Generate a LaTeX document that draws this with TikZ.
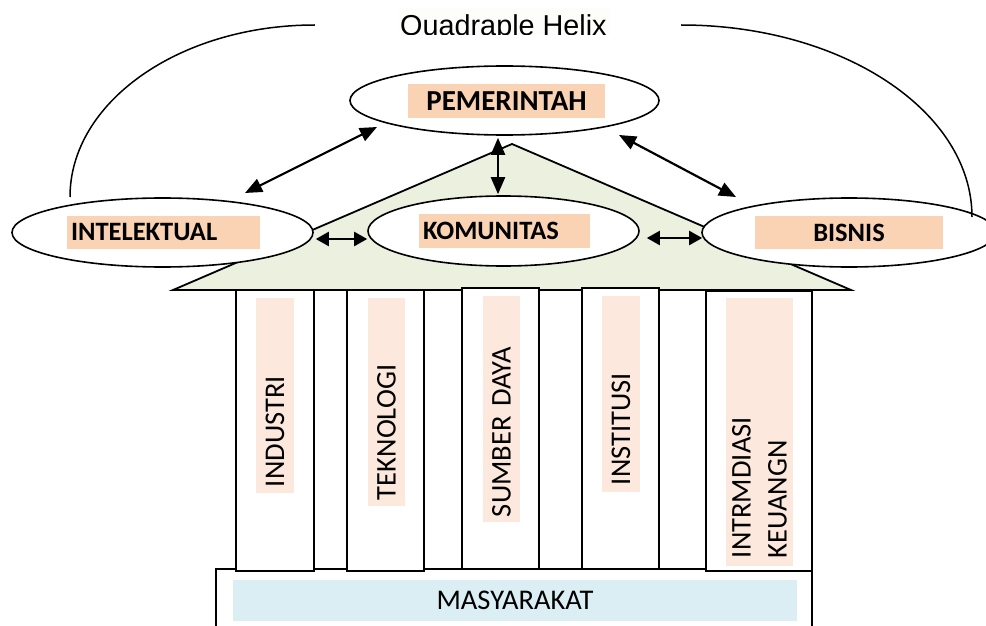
\documentclass[tikz,border=0pt]{standalone}
\usepackage{fontspec}
\setmainfont{Carlito}
\newfontfamily\arialf{Liberation Sans}
\usetikzlibrary{arrows.meta,shapes.geometric}
\definecolor{peachdark}{RGB}{250,211,180}
\definecolor{peachlight}{RGB}{252,232,220}
\definecolor{roofgreen}{RGB}{235,241,222}
\definecolor{aqua}{RGB}{218,238,243}
\definecolor{titlebg}{RGB}{253,253,250}
\begin{document}
\begin{tikzpicture}[x=1pt,y=-1pt,
  ell/.style={draw, ellipse, fill=white, line width=1.6pt, inner sep=0pt},
  lbl/.style={fill=peachdark, inner ysep=0pt, font=\fontsize{26.5}{30}\selectfont\bfseries},
  plbl/.style={fill=peachlight, rotate=90, align=left, inner ysep=0pt, font=\fontsize{28.5}{36}\selectfont},
  pillar/.style={draw, fill=white, line width=1.8pt, inner sep=0pt},
  arc/.style={line width=1.5pt},
  arr/.style={<->, >={Triangle[length=17pt,width=14pt]}, line width=2.2pt},
  harr/.style={<->, >={Triangle[length=13pt,width=14pt]}, line width=2.2pt}]
\useasboundingbox (0,0) rectangle (986,626);
\clip (0,0) rectangle (986,626);

% title
\node[fill=titlebg, inner sep=0pt, minimum width=211pt, minimum height=27pt] (titlebox) at (504.5,21.5) {};
\begin{scope}
  \clip (399,8) rectangle (611,34.7);
  \node[anchor=base west, inner sep=0pt, font=\arialf\fontsize{28.8}{32}\selectfont] (title) at (400,36) {Quadraple Helix};
\end{scope}

% roof
\filldraw[fill=roofgreen, draw=black, line width=1.8pt, line join=miter] (173,290) -- (512,144) -- (851,290) -- cycle;

% ellipses
\node[ell, minimum width=309pt, minimum height=69pt] (pem) at (504.5,100.5) {};
\node[ell, minimum width=301pt, minimum height=69pt] (int) at (162.5,232.5) {};
\node[ell, minimum width=271pt, minimum height=70pt] (kom) at (503.5,231) {};
\node[ell, minimum width=294pt, minimum height=69pt] (bis) at (849,232.5) {};

% labels
\node[lbl, font=\fontsize{29}{32}\selectfont\bfseries, minimum width=197pt, minimum height=34pt] (pemlbl) at (506.5,101) {PEMERINTAH};
\node[lbl, text width=185pt, inner xsep=4pt, align=left, minimum height=33pt] (intlbl) at (163.5,232.5) {INTELEKTUAL};
\node[lbl, text width=163pt, inner xsep=4pt, align=left, minimum height=34pt] (komlbl) at (504.5,231) {KOMUNITAS};
\node[lbl, minimum width=188pt, minimum height=33pt] (bislbl) at (849,232.5) {BISNIS};

% arcs
\draw[arc] ([shift={(-92.5,-35.5)}]int.center) .. controls +(0,-95) and +(-135.3,0) .. ([shift={(-84,3.5)}]titlebox.west);
\draw[arc] ([shift={(71,3.5)}]titlebox.east) .. controls +(160.7,0) and +(0,-106) .. ([shift={(123,-15.5)}]bis.center);

% arrows
\draw[arr] ([shift={(-127.5,26.5)}]pem.center) -- ([shift={(82.5,-39.5)}]int.center);
\draw[arr] ([shift={(-6.5,2)}]pem.south) -- ([shift={(-5.5,-1)}]kom.north);
\draw[arr] ([shift={(114.5,34.5)}]pem.center) -- ([shift={(-113,-35.5)}]bis.center);
\draw[harr] ([shift={(2,6.5)}]int.east) -- ([shift={(0,8)}]kom.west);
\draw[harr] ([shift={(7,7)}]kom.east) -- ([shift={(1,5.5)}]bis.west);

% base
\node[draw, fill=white, line width=1.5pt, inner sep=0pt, minimum width=596pt, minimum height=81pt] (base) at (514,609.5) {};
\node[fill=aqua, inner sep=0pt, minimum width=564pt, minimum height=41pt, font=\fontsize{28.5}{32}\selectfont] (mas) at (515,600.5) {MASYARAKAT};

% pillars
\node[pillar, minimum width=78pt, minimum height=281pt] (p1) at (275,430.5) {};
\node[pillar, minimum width=77pt, minimum height=281pt] (p2) at (385.5,430.5) {};
\node[pillar, minimum width=77pt, minimum height=281pt] (p3) at (500.5,428.5) {};
\node[pillar, minimum width=77pt, minimum height=281pt] (p4) at (620.5,428.5) {};
\node[pillar, minimum width=106pt, minimum height=280pt] (p5) at (759,431) {};

% pillar labels
\node[plbl, text width=183pt, inner xsep=6pt, minimum height=38pt] (l1) at (275,395.5) {INDUSTRI};
\node[plbl, text width=196pt, inner xsep=6pt, minimum height=37pt] (l2) at (386.5,402) {TEKNOLOGI};
\node[plbl, text width=216pt, inner xsep=5pt, minimum height=37pt] (l3) at (501.5,409) {SUMBER DAYA};
\node[plbl, text width=182pt, inner xsep=7pt, minimum height=38pt] (l4) at (621,394) {INSTITUSI};
\node[plbl, text width=252pt, inner xsep=8pt, minimum height=67pt] (l5) at (759.5,432) {INTRMDIASI\\KEUANGN};
\end{tikzpicture}
\end{document}
